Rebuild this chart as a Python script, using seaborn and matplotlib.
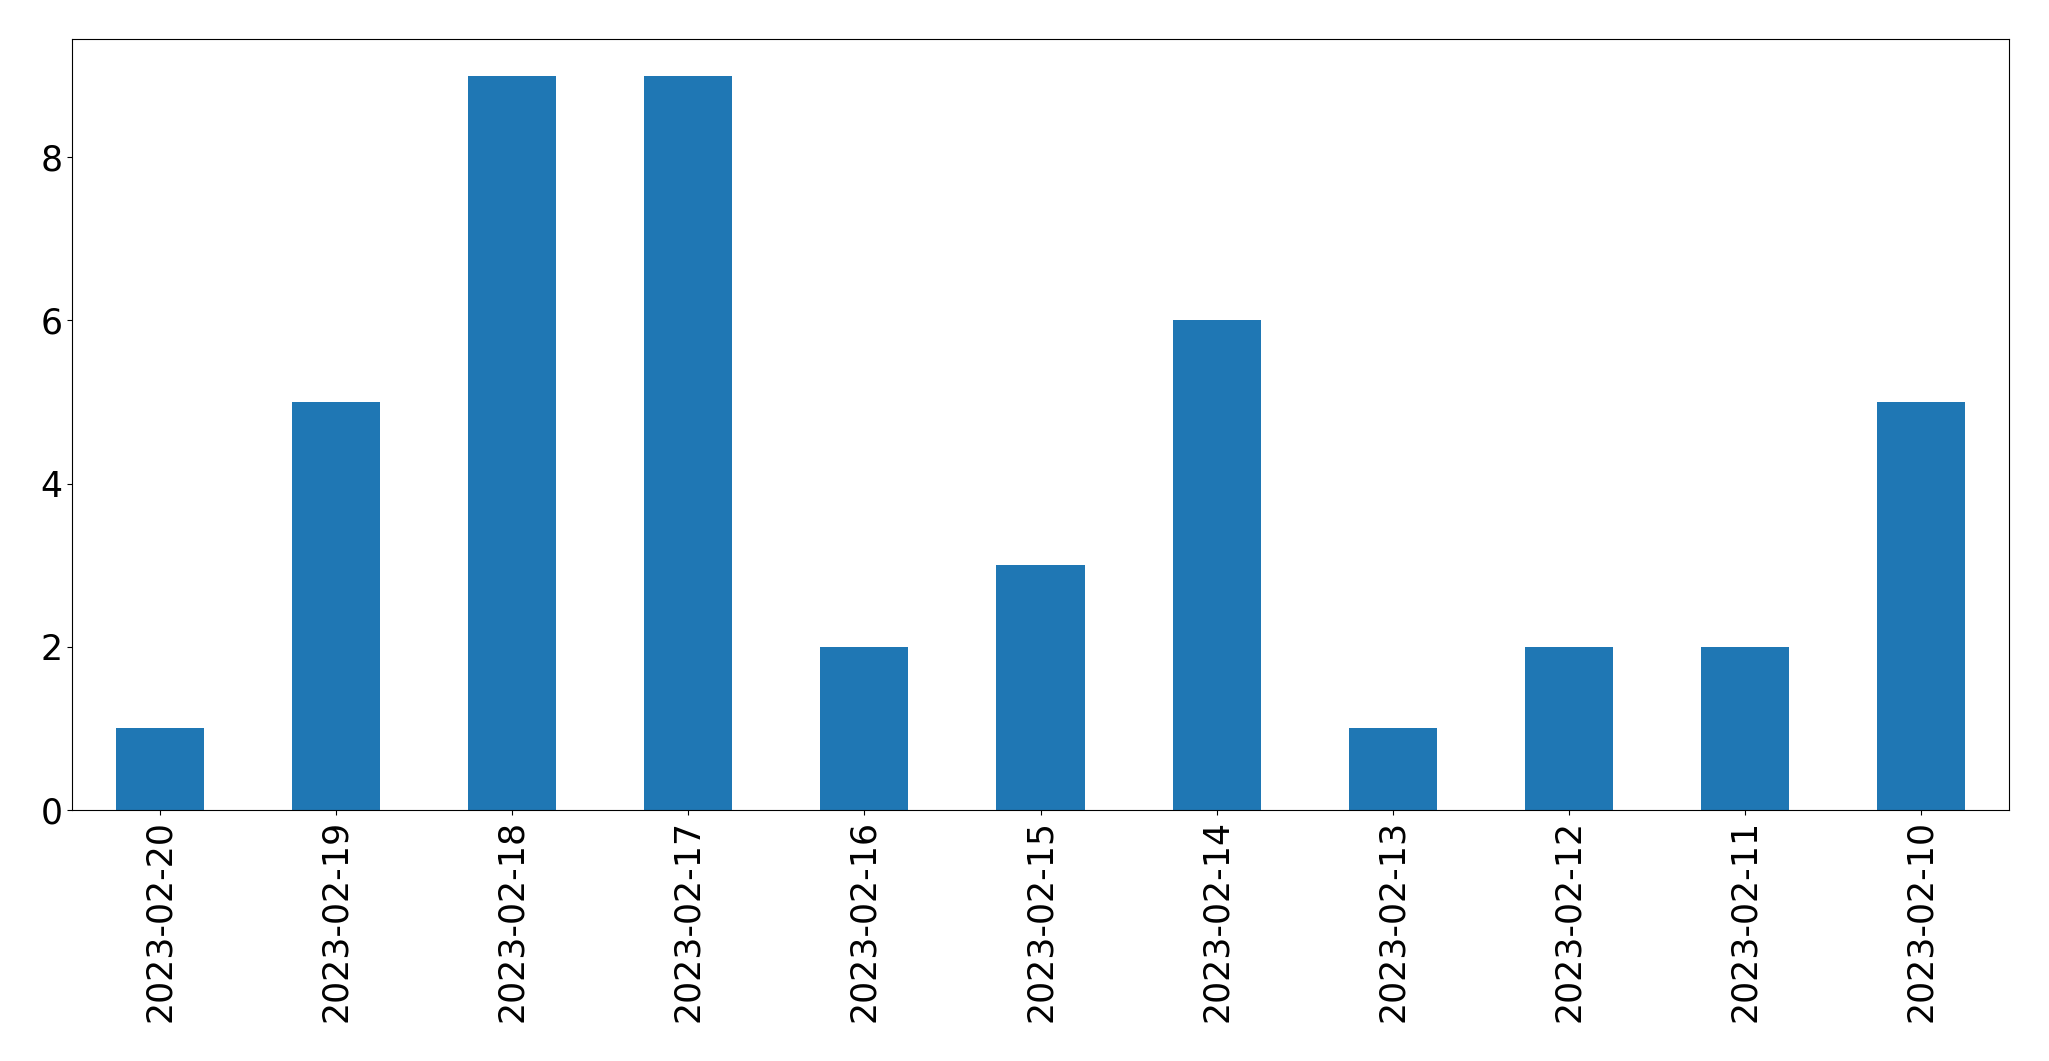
import pandas as pd
import matplotlib.pyplot as plt
import seaborn as sns

dates = ["2023-02-20", "2023-02-19", "2023-02-18", "2023-02-17", "2023-02-16",
         "2023-02-15", "2023-02-14", "2023-02-13", "2023-02-12", "2023-02-11",
         "2023-02-10"]
counts = [1, 5, 9, 9, 2, 3, 6, 1, 2, 2, 5]

df = pd.DataFrame({"date": dates, "count": counts})

fig, ax = plt.subplots(figsize=(20.49, 10.61), dpi=100)
fig.subplots_adjust(left=72 / 2049, right=2009 / 2049, top=1 - 39 / 1061, bottom=1 - 810 / 1061)

sns.barplot(data=df, x="date", y="count", color="#1f77b4", saturation=1, width=0.5,
            linewidth=0, ax=ax)
ax.set_xlim(-0.5, len(dates) - 0.5)
ax.set_ylim(0, max(counts) * 1.05)
ax.set_xlabel("")
ax.set_ylabel("")
ax.tick_params(axis="both", labelsize=25)
plt.xticks(rotation=90)

fig.savefig("out.png")
